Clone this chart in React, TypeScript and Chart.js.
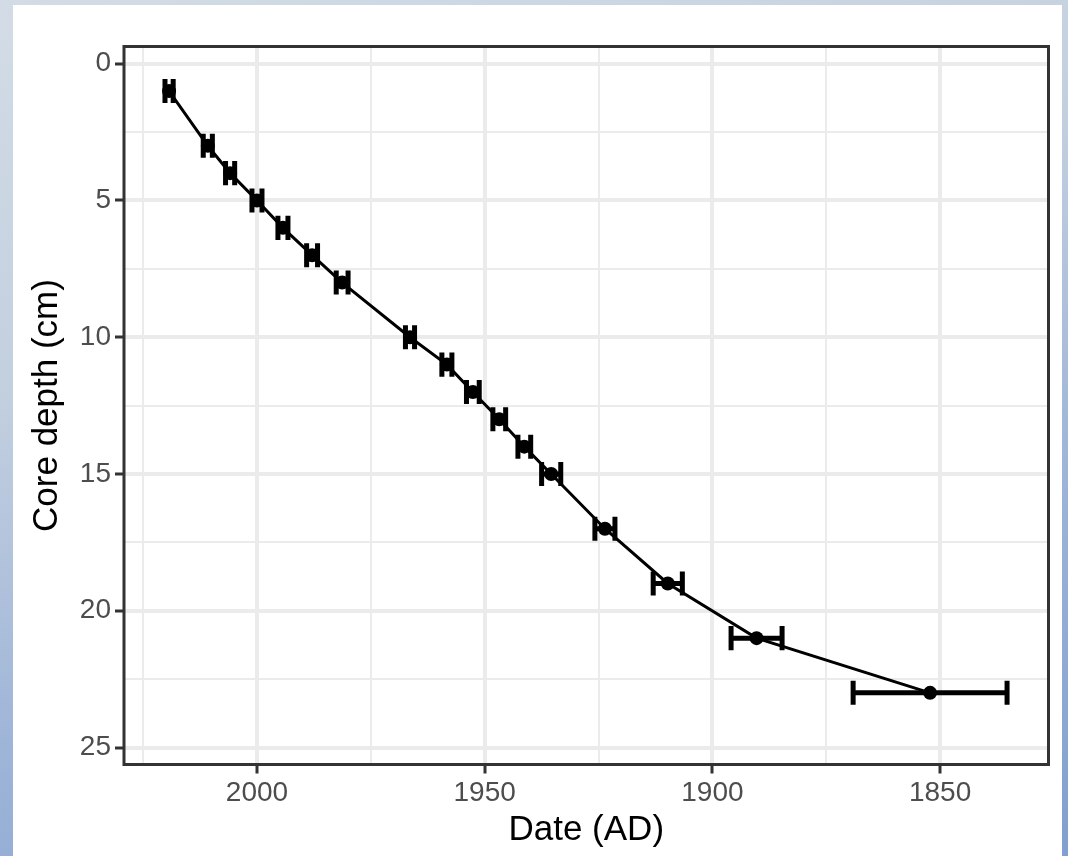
import { useEffect, useRef } from "react";
import { Chart, registerables } from "chart.js";

Chart.register(...registerables);

// ---- data ----
const depthCm = [1, 3, 4, 5, 6, 7, 8, 10, 11, 12, 13, 14, 15, 17, 19, 21, 23];
const dateAD = [
  2019.3, 2010.8, 2005.9, 2000.0, 1994.3, 1987.9, 1981.3, 1966.4, 1958.3,
  1952.6, 1946.8, 1941.3, 1935.4, 1923.6, 1909.8, 1890.3, 1852.2,
];
const dateError = [
  0.9, 1.0, 1.0, 1.1, 1.1, 1.2, 1.3, 1.0, 1.1, 1.4, 1.4, 1.4, 2.1, 2.2, 3.2,
  5.6, 16.9,
];
const xMajorTicks = [2000, 1950, 1900, 1850];
const xMinorTicks = [2025, 1975, 1925, 1875];
const yMajorTicks = [0, 5, 10, 15, 20, 25];
const yMinorTicks = [2.5, 7.5, 12.5, 17.5, 22.5];
const xLimits = [1826.2, 2029.2];
const yLimits = [-0.63, 25.62];
const errorBarHalfHeight = 0.44; // cm
const xTitle = "Date (AD)";
const yTitle = "Core depth (cm)";

const FONT = "'Liberation Sans', Arial, Helvetica, sans-serif";

const errorBarPlugin = {
  id: "errorBars",
  afterDatasetsDraw(chart: any) {
    const { ctx } = chart;
    const xs = chart.scales.x;
    const ys = chart.scales.y;
    ctx.save();
    ctx.strokeStyle = "#000";
    ctx.lineWidth = 5;
    ctx.lineCap = "butt";
    depthCm.forEach((d, i) => {
      const x1 = xs.getPixelForValue(dateAD[i] - dateError[i]);
      const x2 = xs.getPixelForValue(dateAD[i] + dateError[i]);
      const yc = ys.getPixelForValue(d);
      const yt = ys.getPixelForValue(d - errorBarHalfHeight);
      const yb = ys.getPixelForValue(d + errorBarHalfHeight);
      ctx.beginPath();
      ctx.moveTo(x1, yc);
      ctx.lineTo(x2, yc);
      ctx.moveTo(x1, yt);
      ctx.lineTo(x1, yb);
      ctx.moveTo(x2, yt);
      ctx.lineTo(x2, yb);
      ctx.stroke();
    });
    ctx.restore();
  },
};

const panelBorderPlugin = {
  id: "panelBorder",
  afterDraw(chart: any) {
    const { ctx, chartArea } = chart;
    ctx.save();
    ctx.strokeStyle = "#333333";
    ctx.lineWidth = 3;
    ctx.strokeRect(
      chartArea.left,
      chartArea.top,
      chartArea.right - chartArea.left,
      chartArea.bottom - chartArea.top
    );
    ctx.restore();
  },
};

const isMajor = (list: number[], v: number) =>
  list.some((m) => Math.abs(m - v) < 1e-6);

export default function App() {
  const canvasRef = useRef<HTMLCanvasElement | null>(null);

  useEffect(() => {
    const canvas = canvasRef.current;
    if (!canvas) return;
    const points = depthCm.map((d, i) => ({ x: dateAD[i], y: d }));

    const chart = new Chart(canvas, {
      type: "scatter",
      data: {
        datasets: [
          {
            data: points,
            showLine: true,
            borderColor: "#000",
            borderWidth: 3,
            pointRadius: 7,
            pointBackgroundColor: "#000",
            pointBorderWidth: 0,
            pointHoverRadius: 7,
          } as any,
        ],
      },
      options: {
        animation: false,
        responsive: false,
        maintainAspectRatio: false,
        events: [],
        layout: { padding: { left: 0, top: 41.5, right: 13.5, bottom: 0 } },
        plugins: {
          legend: { display: false },
          tooltip: { enabled: false },
        },
        scales: {
          x: {
            type: "linear",
            reverse: true,
            min: xLimits[0],
            max: xLimits[1],
            afterBuildTicks: (scale: any) => {
              scale.ticks = [...xMajorTicks, ...xMinorTicks]
                .sort((a, b) => a - b)
                .map((v) => ({ value: v }));
            },
            afterFit: (scale: any) => {
              scale.height = 91.5;
            },
            border: { display: false },
            grid: {
              color: "#ebebeb",
              lineWidth: (c: any) =>
                isMajor(xMajorTicks, c.tick?.value) ? 4 : 2,
              drawTicks: true,
              tickLength: 9,
              tickWidth: 3,
              tickColor: (c: any) =>
                isMajor(xMajorTicks, c.tick?.value) ? "#333333" : "rgba(0,0,0,0)",
            },
            ticks: {
              autoSkip: false,
              maxRotation: 0,
              padding: 3,
              color: "#4d4d4d",
              font: { family: FONT, size: 28 },
              callback: (v: any) => (isMajor(xMajorTicks, Number(v)) ? String(v) : ""),
            },
            title: {
              display: true,
              text: xTitle,
              color: "#000",
              font: { family: FONT, size: 35 },
              padding: { top: 0, bottom: 5 },
            },
          },
          y: {
            type: "linear",
            reverse: true,
            min: yLimits[0],
            max: yLimits[1],
            afterBuildTicks: (scale: any) => {
              scale.ticks = [...yMajorTicks, ...yMinorTicks]
                .sort((a, b) => a - b)
                .map((v) => ({ value: v }));
            },
            afterFit: (scale: any) => {
              scale.width = 111;
            },
            border: { display: false },
            grid: {
              color: "#ebebeb",
              lineWidth: (c: any) =>
                isMajor(yMajorTicks, c.tick?.value) ? 4 : 2,
              drawTicks: true,
              tickLength: 9,
              tickWidth: 3,
              tickColor: (c: any) =>
                isMajor(yMajorTicks, c.tick?.value) ? "#333333" : "rgba(0,0,0,0)",
            },
            ticks: {
              autoSkip: false,
              padding: 4,
              color: "#4d4d4d",
              font: { family: FONT, size: 28 },
              callback: (v: any) => (isMajor(yMajorTicks, Number(v)) ? String(v) : ""),
            },
            title: {
              display: true,
              text: yTitle,
              color: "#000",
              font: { family: FONT, size: 35 },
              padding: { top: 13, bottom: 0 },
            },
          },
        },
      } as any,
      plugins: [errorBarPlugin, panelBorderPlugin],
    });

    return () => chart.destroy();
  }, []);

  return (
    <div
      style={{
        position: "fixed",
        left: 0,
        top: 0,
        width: 1068,
        height: 856,
        overflow: "hidden",
        background:
          "linear-gradient(165deg, #d3dce6 0%, #c2cfdf 35%, #9fb5d8 65%, #819fcf 100%)",
      }}
    >
      <div
        style={{
          position: "absolute",
          left: 13,
          top: 5,
          width: 1049,
          height: 851,
          background: "#ffffff",
        }}
      >
        <canvas
          ref={canvasRef}
          width={1049}
          height={851}
          style={{ display: "block", width: 1049, height: 851 }}
        />
      </div>
    </div>
  );
}
